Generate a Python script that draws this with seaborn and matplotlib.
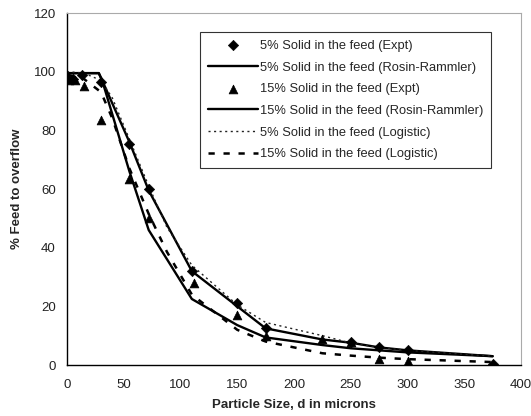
import matplotlib
matplotlib.use("Agg")
import matplotlib.pyplot as plt
import seaborn as sns

sns.set_theme(style="white")
plt.rcParams["font.family"] = ["Liberation Sans", "DejaVu Sans"]

# Experimental points
d_exp5 = [0, 5, 13, 30, 55, 72, 110, 150, 175, 250, 275, 300, 375]
v_exp5 = [98, 97.5, 99, 96.5, 75.5, 60, 32, 21, 12.5, 8, 6, 5, 0.5]
d_exp15 = [2, 7, 15, 30, 55, 72, 112, 150, 175, 225, 250, 275, 300, 375]
v_exp15 = [97, 97, 95, 83.5, 63.5, 50, 28, 17, 10, 9, 8, 2, 1.5, 0.5]

# Rosin-Rammler model curves
d_rr = [0, 28, 31, 55, 72, 110, 150, 175, 225, 250, 275, 300, 375]
v_rr5 = [99.5, 99.5, 97, 76, 59.5, 32, 20, 12.5, 8.7, 7.6, 6, 5, 3]
v_rr15 = [99.5, 99.5, 97, 66, 46, 22.5, 13.6, 9.4, 6.8, 5.7, 5, 4.3, 3]

# Logistic model curves
d_lg = [0, 15, 30, 40, 55, 72, 88, 110, 150, 175, 225, 250, 275, 300, 375]
v_lg5 = [100, 99.5, 97, 91, 77, 61, 47, 34, 20.5, 14.5, 10, 7.5, 6, 5, 3]
v_lg15 = [99, 97.5, 93, 84, 67, 51.5, 38.6, 24, 12, 8, 4, 3.2, 2.5, 2, 1]

fig = plt.figure(figsize=(5.31, 4.16), dpi=100)
ax = fig.add_axes([67 / 531, 51 / 416, 454 / 531, 352 / 416])

sns.lineplot(x=d_rr, y=v_rr5, ax=ax, color="black", lw=1.7,
             label="5% Solid in the feed (Rosin-Rammler)", sort=False)
sns.lineplot(x=d_rr, y=v_rr15, ax=ax, color="black", lw=1.7,
             label="15% Solid in the feed (Rosin-Rammler)", sort=False)
sns.lineplot(x=d_lg, y=v_lg5, ax=ax, color="#222222", lw=1.0,
             linestyle=(0, (1.5, 2.5)), label="5% Solid in the feed (Logistic)", sort=False)
sns.lineplot(x=d_lg, y=v_lg15, ax=ax, color="black", lw=1.8,
             linestyle=(0, (2.5, 3.5)), label="15% Solid in the feed (Logistic)", sort=False)
sns.scatterplot(x=d_exp5, y=v_exp5, ax=ax, marker="D", s=28, color="black",
                edgecolor="black", label="5% Solid in the feed (Expt)", zorder=5)
sns.scatterplot(x=d_exp15, y=v_exp15, ax=ax, marker="^", s=40, color="black",
                edgecolor="black", label="15% Solid in the feed (Expt)", zorder=5)

ax.set_xlim(0, 400)
ax.set_ylim(0, 120)
ax.set_xticks(range(0, 401, 50))
ax.set_yticks(range(0, 121, 20))
ax.tick_params(axis="both", direction="out", length=4, width=1, colors="black",
               labelsize=9.5, labelcolor="#222222")
ax.tick_params(axis="x", pad=6)
ax.tick_params(axis="y", pad=4)
for side in ("left", "bottom"):
    ax.spines[side].set_color("black")
    ax.spines[side].set_linewidth(1.0)
for side in ("top", "right"):
    ax.spines[side].set_color("#aaaaaa")
    ax.spines[side].set_linewidth(0.8)

ax.set_xlabel("Particle Size, d in microns", fontsize=9.5, fontweight="bold", labelpad=6)
ax.set_ylabel("% Feed to overflow", fontsize=9.5, fontweight="bold", labelpad=8)

handles, labels = ax.get_legend_handles_labels()
order = [4, 0, 5, 1, 2, 3]
leg = ax.legend([handles[i] for i in order], [labels[i] for i in order],
                loc="upper left", bbox_to_anchor=(133 / 454, 333 / 352),
                fontsize=9.3, frameon=True, fancybox=False, shadow=False,
                handlelength=3.9, handletextpad=0.15, labelspacing=0.75,
                borderpad=0.6, borderaxespad=0)
leg.get_frame().set_edgecolor("black")
leg.get_frame().set_linewidth(0.8)

fig.savefig("out.png", dpi=100)
